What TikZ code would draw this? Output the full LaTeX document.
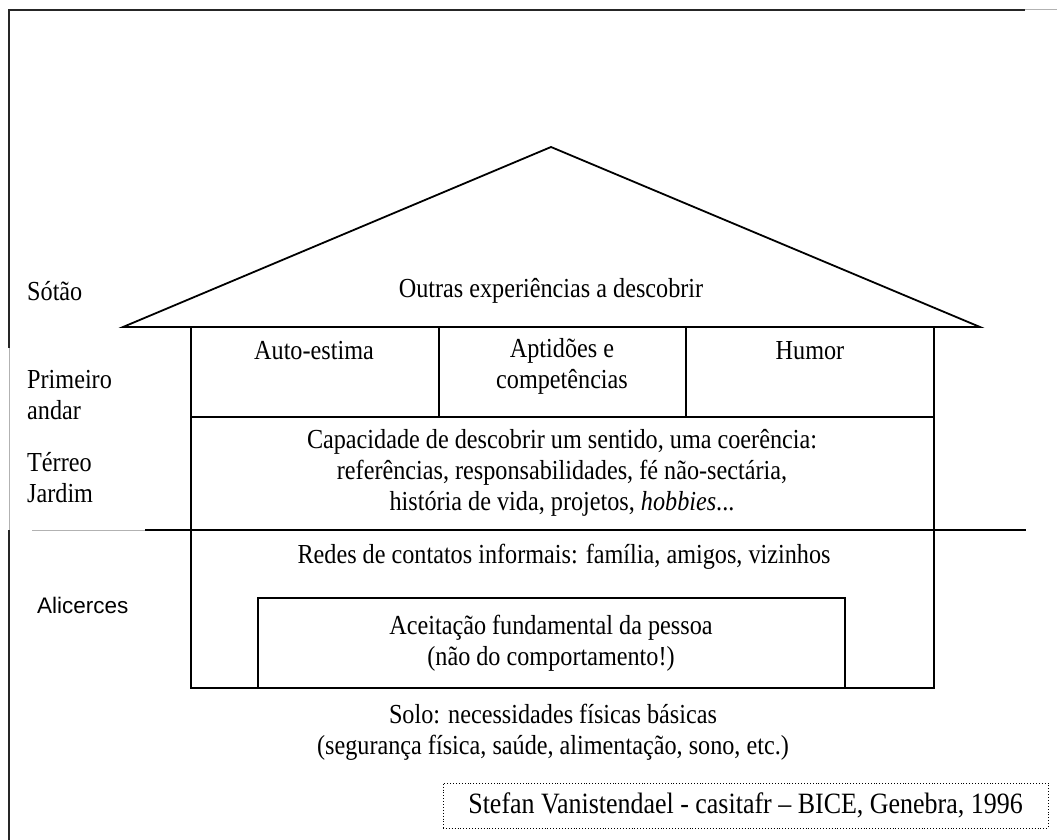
\documentclass[tikz,border=0pt]{standalone}
\usepackage{fontspec}
\setmainfont[FakeStretch=0.88]{Liberation Serif}
\newfontfamily\alisans{Liberation Sans}
\usetikzlibrary{positioning}
\tikzset{
    %Define style for texts
    txt/.style={
           align=center,
           inner sep=0pt,
           font=\fontsize{27.5}{31}\selectfont},
    lbl/.style={
           align=left,
           anchor=west,
           inner sep=0pt,
           font=\fontsize{27.5}{31}\selectfont},
    % Define line styles
    wall/.style={
           draw=black,
           line width=1.8pt},
    frame/.style={
           draw=black!85,
           line width=1.8pt},
    faint/.style={
           draw=black!30,
           line width=1pt},
    credit/.style={
           draw=black,
           dotted,
           line width=0.9pt,
           minimum width=605pt,
           minimum height=45pt,
           inner sep=0pt,
           font=\fontsize{29.5}{31}\selectfont}
}
\begin{document}
\begin{tikzpicture}[x=1pt,y=-1pt]
\useasboundingbox (0,0) rectangle (1057,840);
% outer frame
\draw[frame] (1025,10) -- (9,10) -- (9,348);
\draw[faint] (1025,10) -- (1057,10);
\draw[faint] (9,348) -- (9,530);
\draw[frame] (9,530) -- (9,840);
% roof
\coordinate (eaveL) at (123,327);
\coordinate (apex) at (551,147);
\coordinate (eaveR) at (980,327);
\draw[wall, line join=miter] (eaveL) -- (apex) -- (eaveR) -- cycle;
% house body
\coordinate (wallTL) at (191,327);
\coordinate (wallBR) at (934,688);
\draw[wall] (wallTL) rectangle (wallBR);
\draw[wall] (191,417) -- (934,417);
\draw[wall] (438.7,327) -- (438.7,417);
\draw[wall] (686.3,327) -- (686.3,417);
% ground line
\coordinate (groundL) at (145,530);
\coordinate (groundR) at (1026,530);
\draw[faint] (32,530) -- (groundL);
\draw[wall] (groundL) -- (groundR);
% inner box
\draw[wall] (258,688) -- (258,598) -- (845,598) -- (845,688);

\node[txt] (attic) at (551,291) {Outras experiências a descobrir};
\node[txt] (esteem) at (314,351) {Auto-estima};
\node[txt] (skills) at (562,366) {Aptidões e\\competências};
\node[txt] (humor) at (810,351) {Humor};
\node[txt] (meaning) at (562,473) {Capacidade de descobrir um sentido, uma coerência:\\referências, responsabilidades, fé não-sectária,\\história de vida, projetos, \textit{hobbies}...};
\node[txt] (network) at (564,557) {Redes de contatos informais: família, amigos, vizinhos};
\node[txt] (accept) at (551,643) {Aceitação fundamental da pessoa\\(não do comportamento!)};
\node[txt] (soil) at (553,732) {Solo: necessidades físicas básicas\\(segurança física, saúde, alimentação, sono, etc.)};

\node[lbl] (sotao) at (27,291) {Sótão};
\node[lbl] (primeiro) at (27,395) {Primeiro\\andar};
\node[lbl] (terreo) at (27,478) {Térreo\\Jardim};
\node[lbl, font=\alisans\fontsize{22.5}{26}\selectfont] (alicerces) at (37,605) {Alicerces};

\node[credit] (source) at (745.5,805.5) {Stefan Vanistendael - casitafr -- BICE, Genebra, 1996};
\end{tikzpicture}
\end{document}
